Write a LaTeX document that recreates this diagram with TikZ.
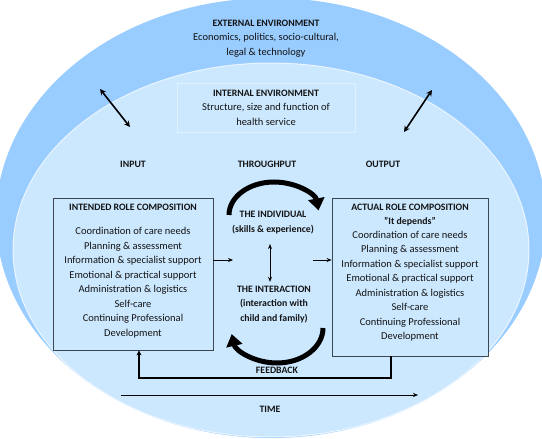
\documentclass[tikz,border=0pt]{standalone}
\usepackage{fontspec}
\setmainfont{Carlito}
\usetikzlibrary{arrows.meta}
\definecolor{outerblue}{RGB}{153,204,255}
\definecolor{innerblue}{RGB}{204,232,255}
\definecolor{boxline}{RGB}{60,70,80}
\definecolor{intline}{RGB}{224,241,255}
\definecolor{txt}{RGB}{20,20,20}
\begin{document}
\begin{tikzpicture}[x=1pt,y=-1pt,
  every node/.style={text=txt},
  hdr/.style={font=\bfseries\fontsize{9.8}{14}\selectfont, align=center, inner sep=0pt},
  body/.style={font=\fontsize{10.5}{14.5}\selectfont, align=center, inner sep=0pt},
  rolebox/.style={draw=boxline, line width=0.8pt, fill=innerblue, inner sep=0pt},
  dblarrow/.style={line width=1.6pt, {Stealth[length=6pt,width=6pt]}-{Stealth[length=6pt,width=6pt]}},
  smallarrow/.style={line width=0.7pt, -{Stealth[length=5pt,width=4pt]}},
  smalldbl/.style={line width=0.7pt, {Stealth[length=5pt,width=4pt]}-{Stealth[length=5pt,width=4pt]}},
  fbline/.style={line width=1.5pt, -{Stealth[length=5pt,width=5pt]}},
  bigarc/.style={line width=5pt, -{Triangle[length=12pt,width=16pt]}}
]
\useasboundingbox (0,0) rectangle (542,439);
\fill[white] (0,0) rectangle (542,439);
\begin{scope}
  \clip (0,0) rectangle (542,439);
  \fill[outerblue] (271,218) ellipse[x radius=275, y radius=220];
  \draw[fill=innerblue, draw=white, line width=1pt, draw opacity=0.7] (271,250) ellipse[x radius=258, y radius=187];
\end{scope}

% external environment
\node[body] (ext) at (266,38.5) {{\bfseries\fontsize{9.8}{14}\selectfont EXTERNAL ENVIRONMENT}\\Economics, politics, socio-cultural,\\legal \& technology};

% internal environment
\node[draw=intline, line width=0.8pt, minimum width=178pt, minimum height=49pt] (intbox) at (266,107.5) {};
\node[body] (int) at (266,107.5) {{\bfseries\fontsize{9.8}{14}\selectfont INTERNAL ENVIRONMENT}\\Structure, size and function of\\health service};

% double arrows
\coordinate (la1) at (100,89);
\coordinate (la2) at (130,127);
\coordinate (ra1) at (432,90);
\coordinate (ra2) at (404,132);
\draw[dblarrow] (la1) -- (la2);
\draw[dblarrow] (ra1) -- (ra2);

% column titles
\node[hdr] (input) at (133,164) {INPUT};
\node[hdr] (through) at (267,164) {THROUGHPUT};
\node[hdr] (output) at (383,164) {OUTPUT};

% left box
\node[rolebox, minimum width=160pt, minimum height=152pt] (lbox) at (133,274) {};
\node[body] (ltext) at (133,271) {{\bfseries\fontsize{9.8}{14}\selectfont INTENDED ROLE COMPOSITION}\\[9.5pt]
Coordination of care needs\\Planning \& assessment\\Information \& specialist support\\Emotional \& practical support\\Administration \& logistics\\Self-care\\Continuing Professional\\Development};

% right box
\node[rolebox, minimum width=156pt, minimum height=158pt] (rbox) at (410,277) {};
\node[body] (rtext) at (410,272.5) {{\bfseries\fontsize{9.8}{14}\selectfont ACTUAL ROLE COMPOSITION}\\[-0.5pt]
{\bfseries\fontsize{9.8}{14}\selectfont "It depends"}\\[-0.5pt]
Coordination of care needs\\Planning \& assessment\\Information \& specialist support\\Emotional \& practical support\\Administration \& logistics\\Self-care\\Continuing Professional\\Development};

% throughput
\node[body, font=\bfseries\fontsize{9.8}{14.8}\selectfont] (indiv) at (273,222.5) {THE INDIVIDUAL\\(skills \& experience)};
\node[body, font=\bfseries\fontsize{9.8}{14.5}\selectfont] (inter) at (274,304.5) {THE INTERACTION\\(interaction with\\child and family)};
\draw[smalldbl] ([xshift=-3pt,yshift=-10pt]indiv.south) -- ([xshift=-4pt,yshift=4pt]inter.north);

% flow arrows
\coordinate (a1) at (233,260);
\coordinate (a2) at (313,260);
\draw[smallarrow] ([yshift=14pt]lbox.east) -- (a1);
\draw[smallarrow] (a2) -- ([yshift=17pt]rbox.west);

% big circular arrows
\coordinate (arcT) at (229,215);
\coordinate (arcB) at (323,328);
\draw[bigarc] (arcT) arc[start angle=180, end angle=352, x radius=45, y radius=33];
\draw[bigarc] (arcB) arc[start angle=0, end angle=170, x radius=46, y radius=35];

% feedback
\coordinate (fbR) at (391,378);
\coordinate (fbL) at (139,378);
\draw[fbline] (fbR |- rbox.south) -- (fbR) -- (fbL) -- (fbL |- lbox.south);
\node[hdr] (feedback) at (277,370) {FEEDBACK};

% time
\coordinate (t1) at (121,395);
\coordinate (t2) at (418,395);
\draw[smallarrow] (t1) -- (t2);
\node[hdr] (time) at (270,409) {TIME};
\end{tikzpicture}
\end{document}
